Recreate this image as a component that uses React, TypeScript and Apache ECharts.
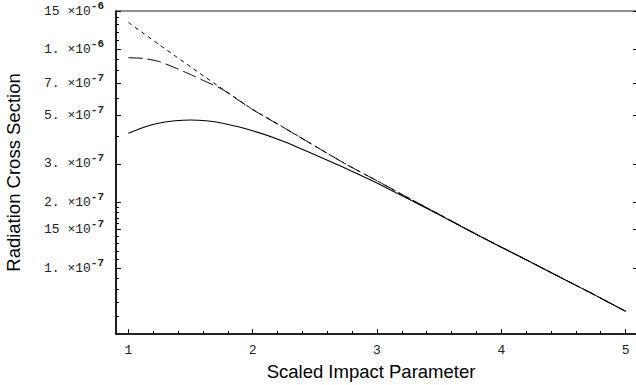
import React, { useEffect, useRef } from "react";
import * as echarts from "echarts";

// Scaled impact parameter samples
const xSamples = [1, 1.125, 1.25, 1.375, 1.5, 1.625, 1.75, 2, 2.25, 2.5, 2.75, 3, 3.25, 3.5, 3.75, 4, 4.25, 4.5, 4.75, 5];

// Short-dashed curve
const shortDashed = [1.329e-6, 1.181e-6, 1.05e-6, 9.35e-7, 8.34e-7, 7.43e-7, 6.64e-7, 5.32e-7, 4.4e-7, 3.62e-7, 2.99e-7, 2.51e-7, 2.1e-7, 1.763e-7, 1.479e-7, 1.248e-7, 1.057e-7, 8.93e-8, 7.55e-8, 6.35e-8];
// Long-dashed curve
const longDashed = [9.17e-7, 9.1e-7, 8.8e-7, 8.25e-7, 7.68e-7, 7.12e-7, 6.6e-7, 5.31e-7, 4.39e-7, 3.62e-7, 2.99e-7, 2.51e-7, 2.1e-7, 1.763e-7, 1.479e-7, 1.248e-7, 1.057e-7, 8.93e-8, 7.55e-8, 6.35e-8];
// Solid curve
const solid = [4.136e-7, 4.41e-7, 4.61e-7, 4.72e-7, 4.76e-7, 4.72e-7, 4.61e-7, 4.25e-7, 3.8e-7, 3.3e-7, 2.86e-7, 2.45e-7, 2.075e-7, 1.755e-7, 1.476e-7, 1.247e-7, 1.057e-7, 8.93e-8, 7.55e-8, 6.35e-8];

// Axis ticks
const xMajorTicks = [1, 2, 3, 4, 5];
const xMinorTicks = [1.2, 1.4, 1.6, 1.8, 2.2, 2.4, 2.6, 2.8, 3.2, 3.4, 3.6, 3.8, 4.2, 4.4, 4.6, 4.8];
const yMajorTicks = [1.5e-6, 1e-6, 7e-7, 5e-7, 3e-7, 2e-7, 1.5e-7, 1e-7];
const yMajorMantissa = ["15 ", "1. ", "7. ", "5. ", "3. ", "2. ", "15 ", "1. "];
const yMajorExponent = ["-6", "-6", "-7", "-7", "-7", "-7", "-7", "-7"];
const yMinorTicks = [1.4e-6, 1.3e-6, 1.2e-6, 1.1e-6, 9e-7, 8e-7, 6e-7, 4e-7, 1.9e-7, 1.8e-7, 1.7e-7, 1.6e-7, 1.4e-7, 1.3e-7, 1.2e-7, 1.1e-7, 9e-8, 8e-8, 7e-8, 6e-8];
const yMin = 5e-8;
const yMax = 1.5e-6;

const lg = (v: number) => Math.log10(v);

export default function App() {
  const ref = useRef<HTMLDivElement>(null);
  useEffect(() => {
    if (!ref.current) return;
    const chart = echarts.init(ref.current, null, { renderer: "svg" });
    const mono = "'Liberation Mono', 'DejaVu Sans Mono', monospace";
    const sans = "'Liberation Sans', Arial, sans-serif";
    const toSeries = (vals: number[]) => xSamples.map((x, i) => [x, lg(vals[i])]);
    const yMajorLog = yMajorTicks.map(lg);
    const yMinorLog = yMinorTicks.map(lg);
    const baseY = {
      type: "value" as const,
      min: lg(yMin),
      max: lg(yMax),
      splitLine: { show: false },
    };
    const baseX = {
      type: "value" as const,
      min: 0.9,
      max: 5.1,
      splitLine: { show: false },
    };
    chart.setOption({
      animation: false,
      backgroundColor: "#fff",
      grid: {
        left: 116,
        top: 11,
        width: 522,
        height: 323,
        show: true,
        borderColor: "#222",
        borderWidth: 1.2,
        containLabel: false,
        outerBoundsMode: "none",
      },
      xAxis: [
        {
          ...baseX,
          position: "bottom",
          name: "Scaled Impact Parameter",
          nameLocation: "middle",
          nameGap: 23,
          nameTextStyle: { fontFamily: sans, fontSize: 18.5, color: "#000", padding: [0, 12, 0, 0] },
          axisLine: { onZero: false, lineStyle: { color: "#000", width: 1.5 } },
          axisTick: { inside: true, length: 5, customValues: xMajorTicks, lineStyle: { color: "#000", width: 1 } },
          axisLabel: { customValues: xMajorTicks, margin: 10, fontFamily: mono, fontSize: 13, color: "#222" },
        },
        {
          ...baseX,
          position: "bottom",
          axisLine: { show: false, onZero: false },
          axisTick: { inside: true, length: 3, customValues: xMinorTicks, lineStyle: { color: "#000", width: 1 } },
          axisLabel: { show: false },
        },
      ],
      yAxis: [
        {
          ...baseY,
          position: "left",
          name: "Radiation Cross Section",
          nameLocation: "middle",
          nameGap: 93,
          nameTextStyle: { fontFamily: sans, fontSize: 18.5, color: "#000" },
          axisLine: { onZero: false, lineStyle: { color: "#000", width: 1.5 } },
          axisTick: { inside: true, length: 5, customValues: yMajorLog, lineStyle: { color: "#000", width: 1 } },
          axisLabel: {
            customValues: yMajorLog,
            margin: 12,
            formatter: (v: number) => {
              let idx = 0;
              let best = Infinity;
              yMajorLog.forEach((t, i) => {
                const d = Math.abs(t - v);
                if (d < best) { best = d; idx = i; }
              });
              return `{m|${yMajorMantissa[idx]}×10}{e|${yMajorExponent[idx]}}`;
            },
            rich: {
              m: { fontFamily: mono, fontSize: 13, color: "#222" },
              e: { fontFamily: mono, fontSize: 11, color: "#222", fontWeight: "bold", padding: [0, 0, 11, 0] },
            },
          },
        },
        {
          ...baseY,
          position: "left",
          axisLine: { show: false, onZero: false },
          axisTick: { inside: true, length: 3, customValues: yMinorLog, lineStyle: { color: "#000", width: 1 } },
          axisLabel: { show: false },
        },
        {
          ...baseY,
          position: "right",
          axisLine: { show: false, onZero: false },
          axisTick: { inside: true, length: 5, customValues: yMajorLog, lineStyle: { color: "#000", width: 1 } },
          axisLabel: { show: false },
        },
      ],
      series: [
        {
          type: "line",
          name: "short dashed",
          xAxisIndex: 0,
          yAxisIndex: 0,
          data: toSeries(shortDashed),
          symbol: "none",
          smooth: 0.2,
          lineStyle: { color: "#000", width: 1, type: [4, 4] },
        },
        {
          type: "line",
          name: "long dashed",
          xAxisIndex: 0,
          yAxisIndex: 0,
          data: toSeries(longDashed),
          symbol: "none",
          smooth: 0.2,
          lineStyle: { color: "#000", width: 1, type: [14, 5] },
        },
        {
          type: "line",
          name: "solid",
          xAxisIndex: 0,
          yAxisIndex: 0,
          data: toSeries(solid),
          symbol: "none",
          smooth: 0.2,
          lineStyle: { color: "#000", width: 1.1, type: "solid" },
        },
      ],
    });
    return () => chart.dispose();
  }, []);
  return (
    <div
      ref={ref}
      style={{ position: "fixed", left: 0, top: 0, width: 636, height: 385, background: "#fff" }}
    />
  );
}
